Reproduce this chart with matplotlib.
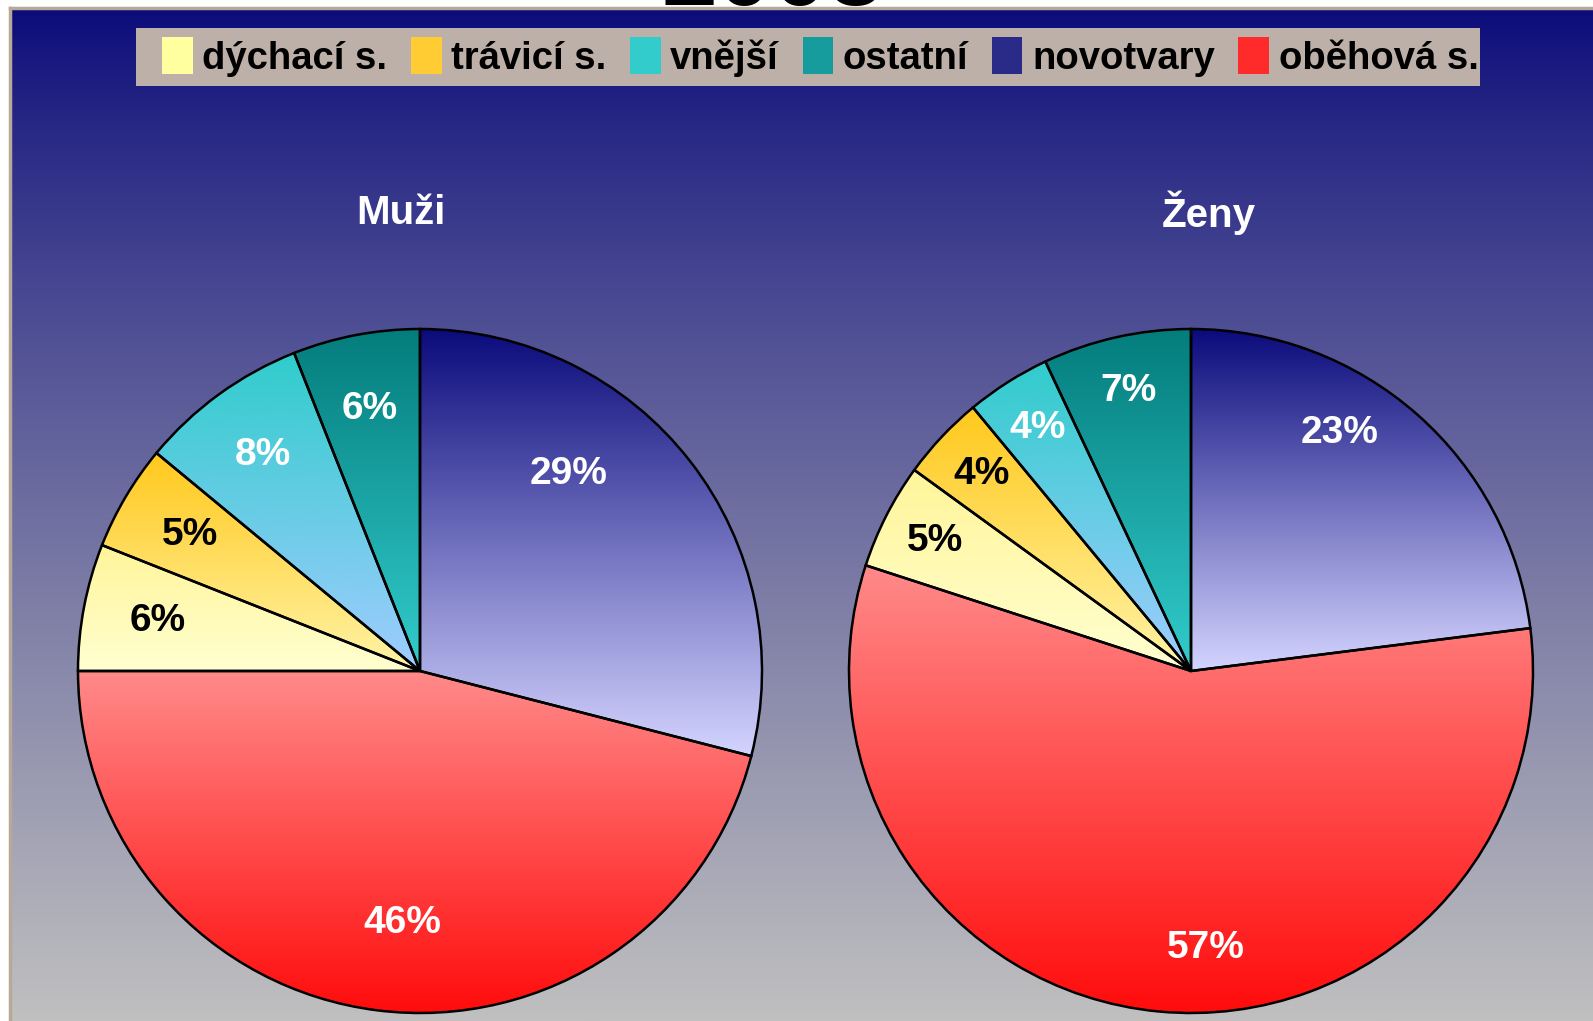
import numpy as np
import matplotlib.pyplot as plt
from matplotlib.colors import to_rgb
from matplotlib.patches import Patch, Rectangle

plt.rcParams['font.family'] = ['Liberation Sans', 'DejaVu Sans']

categories = ['novotvary', 'oběhová s.', 'dýchací s.', 'trávicí s.', 'vnější', 'ostatní']
muzi = [29, 46, 6, 5, 8, 6]
zeny = [23, 57, 5, 4, 4, 7]
titles = ['Muži', 'Ženy']

legend_order = ['dýchací s.', 'trávicí s.', 'vnější', 'ostatní', 'novotvary', 'oběhová s.']
legend_colors = {'dýchací s.': '#ffffa0', 'trávicí s.': '#ffcc33', 'vnější': '#33cccc',
                 'ostatní': '#169c9c', 'novotvary': '#2a2a88', 'oběhová s.': '#ff2a2a'}
# gradient (top, bottom) per wedge
grad = {'novotvary': ('#0a0a7c', '#d4d4ff'), 'oběhová s.': ('#ff8a8a', '#ff0c0c'),
        'dýchací s.': ('#fff59a', '#ffffd0'), 'trávicí s.': ('#ffc81c', '#fff4a8'),
        'vnější': ('#30cccc', '#a0ccff'), 'ostatní': ('#047c7c', '#33cccc')}
label_colors = {'novotvary': 'white', 'oběhová s.': 'white', 'dýchací s.': 'black',
                'trávicí s.': 'black', 'vnější': 'white', 'ostatní': 'white'}

W, H = 1593, 1021
fig = plt.figure(figsize=(W / 100, H / 100), dpi=100)
fig.patch.set_facecolor('white')
ax = fig.add_axes([0, 0, 1, 1])
ax.set_axis_off()

# background panel gradient
top = np.array(to_rgb('#0a0a7a'))
bot = np.array(to_rgb('#c0c0c0'))
t = np.linspace(0, 1, 512)[:, None] ** 0.85
bg = top + (bot - top) * t
bg = np.repeat(bg[:, None, :], 2, axis=1)
ax.imshow(bg, extent=(10, W, 0, H - 8), aspect='auto', interpolation='bilinear', zorder=0)
ax.plot([10, 10], [0, H - 8], color='#b8a898', lw=2.5, zorder=1)
ax.plot([10, W], [H - 8, H - 8], color='#b8a898', lw=2.5, zorder=1)

R = 342
centers = [(420, 350), (1191, 350)]
title_x = [401, 1209]
# label nudges for the two large wedges (radial fraction, angle from top, clockwise)
big_labels = [{'novotvary': (0.72, 37), 'oběhová s.': (0.74, 184)},
              {'novotvary': (0.82, 32), 'oběhová s.': (0.81, 177)}]
for vals, (cx, cy), title, tx, pdist, big in zip([muzi, zeny], centers, titles, title_x,
                                               [0.78, 0.84], big_labels):
    wedges, texts, autotexts = ax.pie(
        vals, center=(cx, cy), radius=R, startangle=90, counterclock=False,
        autopct='%d%%', pctdistance=pdist, frame=True,
        wedgeprops=dict(edgecolor='black', linewidth=1.8, facecolor='none'),
        textprops=dict(fontsize=28, fontweight='bold'))
    for w, cat, at in zip(wedges, categories, autotexts):
        w.set_facecolor('none')
        w.set_zorder(3)
        at.set_color(label_colors[cat])
        at.set_zorder(4)
        if cat in big:
            r, a = big[cat]
            a = np.deg2rad(a)
            at.set_position((cx + r * R * np.sin(a), cy + r * R * np.cos(a)))
        ext = w.get_path().get_extents()
        c1 = np.array(to_rgb(grad[cat][0]))
        c2 = np.array(to_rgb(grad[cat][1]))
        g = c1 + (c2 - c1) * np.linspace(0, 1, 256)[:, None]
        g = np.repeat(g[:, None, :], 2, axis=1)
        im = ax.imshow(g, extent=(ext.x0, ext.x1, ext.y0, ext.y1), aspect='auto',
                       interpolation='bilinear', zorder=2)
        im.set_clip_path(w)
    ax.text(tx, H - 213, title, color='white', fontsize=29, fontweight='bold',
            ha='center', va='center', zorder=4)

ax.set_xlim(0, W)
ax.set_ylim(0, H)

# legend box
ax.add_patch(Rectangle((136, H - 86), 1344, 58, facecolor='#bcb0a8', edgecolor='none', zorder=5))
handles = [Patch(facecolor=legend_colors[c], edgecolor='none') for c in legend_order]
leg = fig.legend(handles, legend_order, loc='center', bbox_to_anchor=(0.515, 1 - 57 / H),
                 ncol=6, frameon=False, prop=dict(weight='bold', size=27.5),
                 handlelength=0.8, handleheight=1.1, handletextpad=0.25,
                 columnspacing=0.62, borderpad=0.1)
leg.set_zorder(6)

fig.text(0.485, 1 - 5 / H, '2003', fontsize=72, fontweight='bold', ha='center',
         va='baseline', color='black')

fig.savefig('out.png', dpi=100, facecolor='white')
